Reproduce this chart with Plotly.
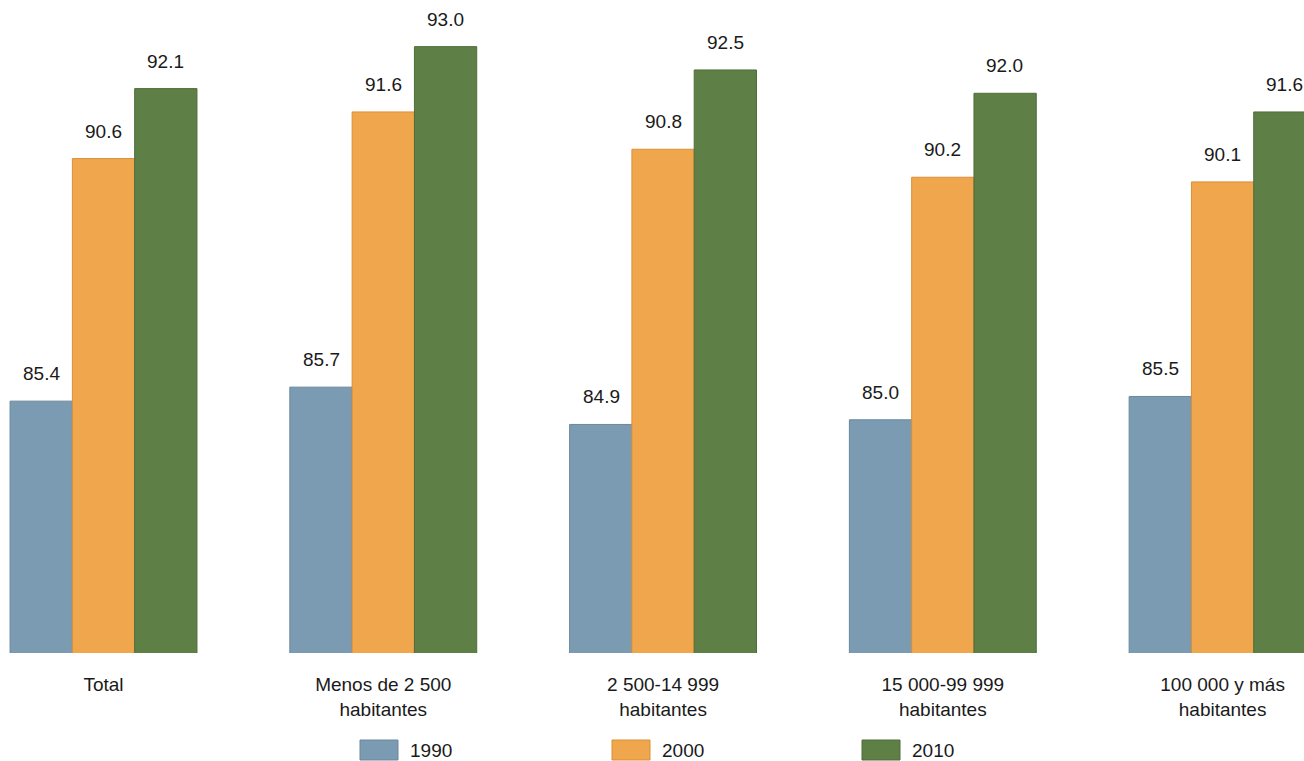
import plotly.graph_objects as go

categories = ["Total", "Menos de 2 500<br>habitantes", "2 500-14 999<br>habitantes",
              "15 000-99 999<br>habitantes", "100 000 y más<br>habitantes"]
series_names = ["1990", "2000", "2010"]
values_1990 = [85.4, 85.7, 84.9, 85.0, 85.5]
values_2000 = [90.6, 91.6, 90.8, 90.2, 90.1]
values_2010 = [92.1, 93.0, 92.5, 92.0, 91.6]
colors = ["#7b9bb3", "#f0a64c", "#5e7f45"]
edge_colors = ["#6a879c", "#d98f38", "#4f6d39"]

W, H = 1304, 761
PLOT_BOTTOM = 653  # px from top
FONT = "Liberation Sans, Arial, sans-serif"
FS = 19

fig = go.Figure()
all_vals = [values_1990, values_2000, values_2010]
for name, vals, col, ec in zip(series_names, all_vals, colors, edge_colors):
    fig.add_trace(go.Bar(
        x=categories, y=vals, name=name,
        marker=dict(color=col, line=dict(width=1, color=ec)),
        showlegend=False, hoverinfo="x+y+name",
    ))

# value labels above bars
offsets = [-62, 0, 62]
for vals, off in zip(all_vals, offsets):
    for c, v in zip(categories, vals):
        fig.add_annotation(x=c, y=v, text=f"{v:.1f}", showarrow=False,
                           xshift=off, yshift=15, yanchor="bottom",
                           font=dict(family=FONT, size=FS, color="#1a1a1a"))

# manual legend
leg_x = [360, 612, 862]
for name, col, ec, lx in zip(series_names, colors, edge_colors, leg_x):
    fig.add_shape(type="rect", xref="paper", yref="paper",
                  x0=lx / W, x1=(lx + 38) / W,
                  y0=(PLOT_BOTTOM - 760) / PLOT_BOTTOM, y1=(PLOT_BOTTOM - 740) / PLOT_BOTTOM,
                  fillcolor=col, line=dict(width=1, color=ec))
    fig.add_annotation(xref="paper", yref="paper", x=(lx + 48) / W,
                       y=(PLOT_BOTTOM - 750) / PLOT_BOTTOM, text=name,
                       showarrow=False, xanchor="left", yanchor="middle",
                       font=dict(family=FONT, size=FS, color="#1a1a1a"))

fig.update_layout(
    width=W, height=H,
    margin=dict(l=0, r=0, t=0, b=H - PLOT_BOTTOM),
    paper_bgcolor="white", plot_bgcolor="white",
    barmode="group", bargap=0.332, bargroupgap=0.0,
    font=dict(family=FONT, size=FS, color="#1a1a1a"),
    xaxis=dict(range=[-0.370, 4.291], showgrid=False, zeroline=False, showline=False,
               ticks="outside", ticklen=14, tickcolor="rgba(0,0,0,0)",
               tickfont=dict(family=FONT, size=FS, color="#1a1a1a")),
    yaxis=dict(range=[80, 94], visible=False, showgrid=False, zeroline=False),
)

fig.write_html("out.html", config={"displayModeBar": False},
               post_script="document.body.style.margin='0';document.body.style.overflow='hidden';")
